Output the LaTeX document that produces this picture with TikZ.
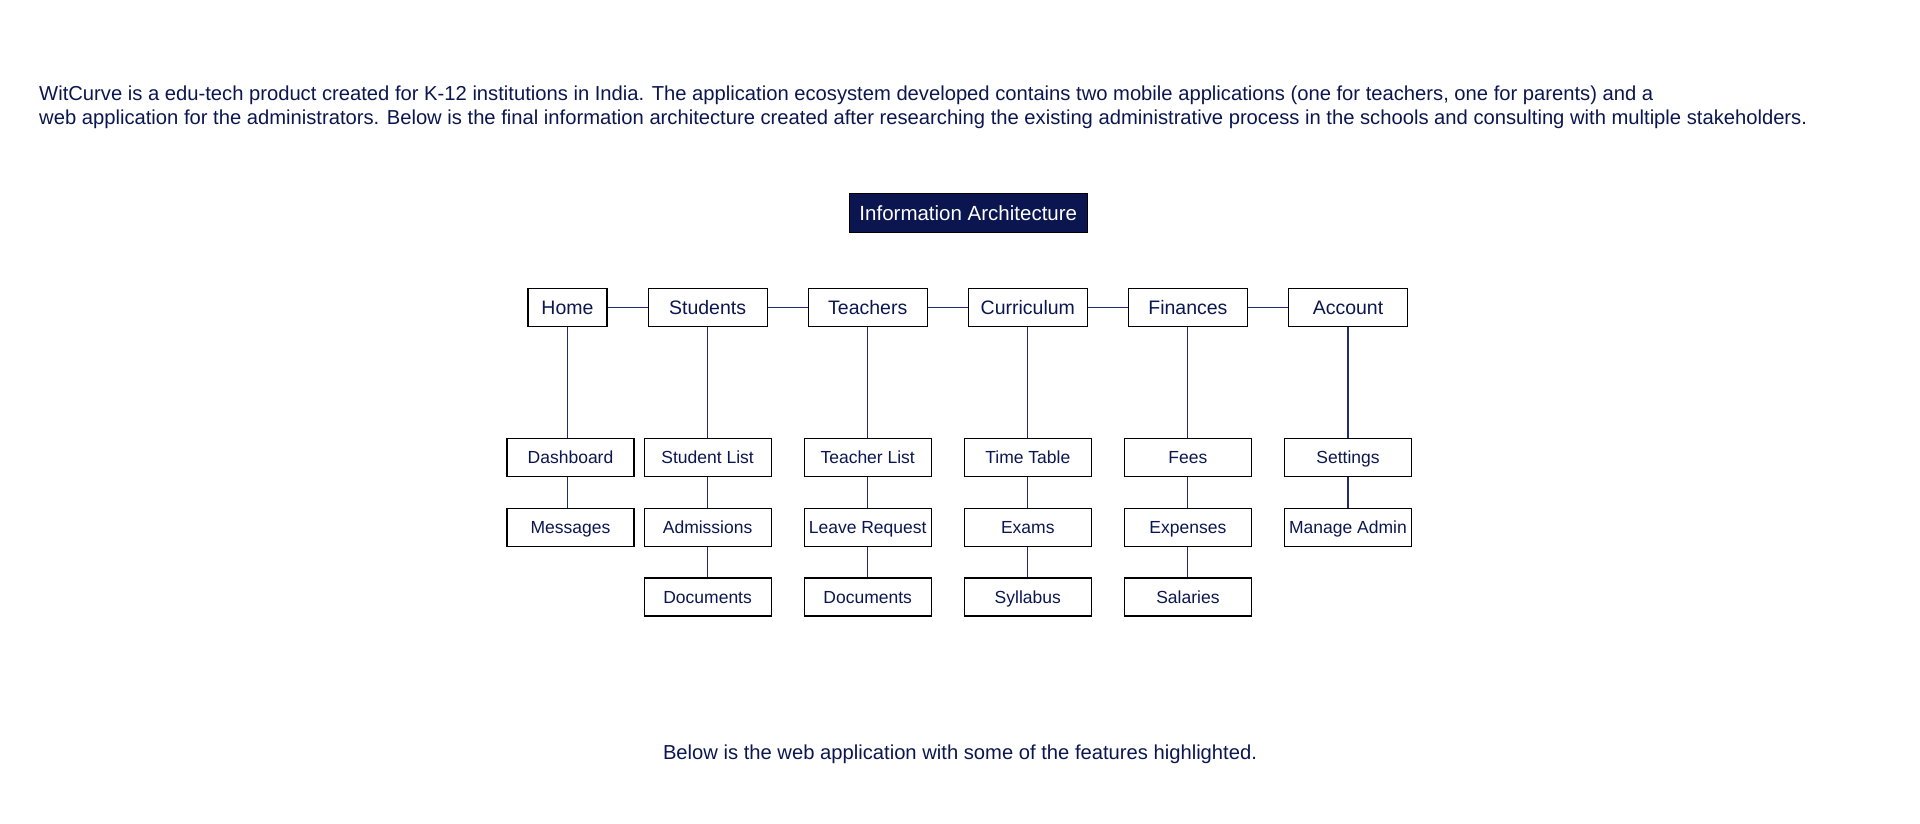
\documentclass[tikz,border=0pt]{standalone}
\usepackage{fontspec}
\setmainfont{Liberation Sans}
\usetikzlibrary{positioning}

\definecolor{witnavy}{HTML}{0B1650}
\definecolor{wireblue}{HTML}{1F2C6E}

\begin{document}
\begin{tikzpicture}[x=1pt, y=1pt, node distance=30.6pt and 40pt,
    every node/.style={text=witnavy},
    topbox/.style={draw=black, line width=1.1pt, minimum width=119pt, minimum height=38pt, inner sep=0pt, text height=14pt, text depth=0pt, font=\fontsize{19.5}{23}\selectfont},
    subbox/.style={draw=black, line width=1.1pt, minimum width=127pt, minimum height=38pt, inner sep=0pt, text height=12.5pt, text depth=0pt, font=\fontsize{17.5}{21}\selectfont},
    titlebox/.style={draw=black, fill=witnavy, text=white, line width=1.1pt, minimum width=238pt, minimum height=39pt, inner sep=0pt, font=\fontsize{20.5}{24}\selectfont},
    wire/.style={draw=wireblue, line width=1.1pt}]
    \useasboundingbox (0,0) rectangle (1920,-824);

    % intro text
    \node[anchor=west, inner sep=0pt, align=left, font=\fontsize{20.2}{24.5}\selectfont] (intro) at (39,-107.5)
      {WitCurve is a edu-tech product created for K-12 institutions in India. The application ecosystem developed contains two mobile applications (one for teachers, one for parents) and a\\
       web application for the administrators. Below is the final information architecture created after researching the existing administrative process in the schools and consulting with multiple stakeholders.};

    % top level
    \node[topbox, minimum width=79pt] (home) at (567.5,-307.5) {Home};
    \node[topbox, right=of home] (students) {Students};
    \node[topbox, right=of students] (teachers) {Teachers};
    \node[topbox, right=of teachers] (curriculum) {Curriculum};
    \node[topbox, right=of curriculum] (finances) {Finances};
    \node[topbox, right=of finances] (account) {Account};
    \node[titlebox, anchor=east] (ia) at (curriculum.east |- 0,-213) {Information Architecture};

    % second level
    \node[subbox, below=111pt of home, xshift=3pt] (dashboard) {Dashboard};
    \node[subbox, below=111pt of students] (studentlist) {Student List};
    \node[subbox, below=111pt of teachers] (teacherlist) {Teacher List};
    \node[subbox, below=111pt of curriculum] (timetable) {Time Table};
    \node[subbox, below=111pt of finances] (fees) {Fees};
    \node[subbox, below=111pt of account] (settings) {Settings};

    % third and fourth level
    \node[subbox, below=of dashboard] (messages) {Messages};
    \node[subbox, below=of studentlist] (admissions) {Admissions};
    \node[subbox, below=of admissions] (studentdocs) {Documents};
    \node[subbox, below=of teacherlist] (leave) {Leave Request};
    \node[subbox, below=of leave] (teacherdocs) {Documents};
    \node[subbox, below=of timetable] (exams) {Exams};
    \node[subbox, below=of exams] (syllabus) {Syllabus};
    \node[subbox, below=of fees] (expenses) {Expenses};
    \node[subbox, below=of expenses] (salaries) {Salaries};
    \node[subbox, below=of settings] (manageadmin) {Manage Admin};

    % connectors
    \draw[wire] (home) -- (students);
    \draw[wire] (students) -- (teachers);
    \draw[wire] (teachers) -- (curriculum);
    \draw[wire] (curriculum) -- (finances);
    \draw[wire] (finances) -- (account);
    \draw[wire] (home.south) -- (home.south |- dashboard.north);
    \draw[wire] (students) -- (studentlist);
    \draw[wire] (teachers) -- (teacherlist);
    \draw[wire] (curriculum) -- (timetable);
    \draw[wire] (finances) -- (fees);
    \draw[wire] (account) -- (settings);
    \draw[wire] (home.south |- dashboard.south) -- (home.south |- messages.north);
    \draw[wire] (studentlist) -- (admissions);
    \draw[wire] (admissions) -- (studentdocs);
    \draw[wire] (teacherlist) -- (leave);
    \draw[wire] (leave) -- (teacherdocs);
    \draw[wire] (timetable) -- (exams);
    \draw[wire] (exams) -- (syllabus);
    \draw[wire] (fees) -- (expenses);
    \draw[wire] (expenses) -- (salaries);
    \draw[wire] (settings) -- (manageadmin);

    \node[font=\fontsize{20.2}{24}\selectfont] (webnote) at (960,-754) {Below is the web application with some of the features highlighted.};
\end{tikzpicture}
\end{document}
